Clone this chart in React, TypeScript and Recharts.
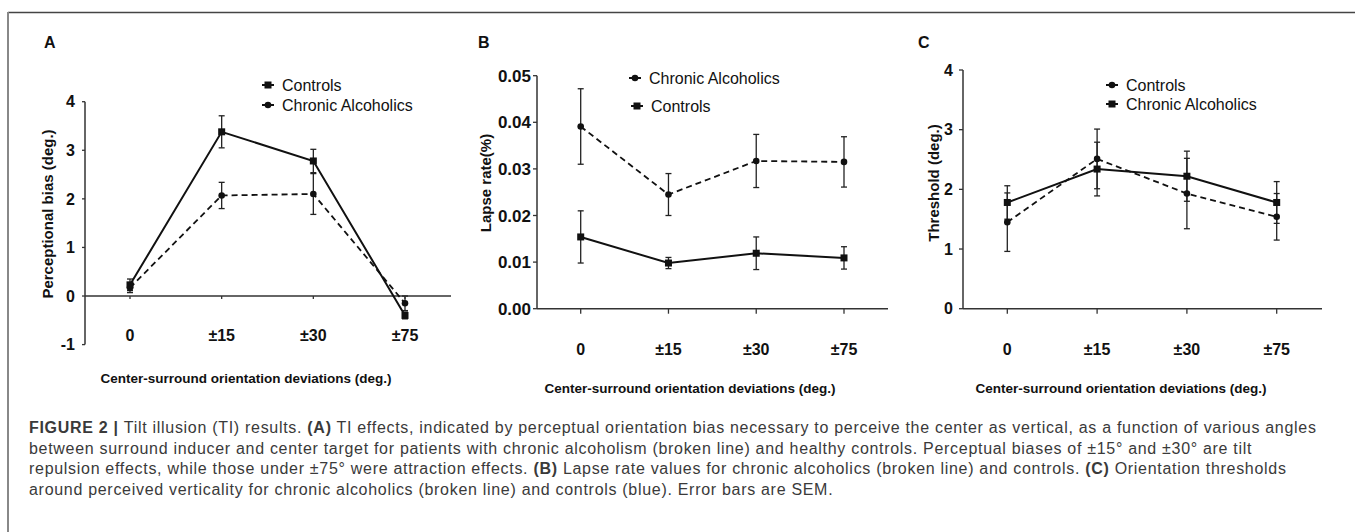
import React from 'react';
import { LineChart, Line, XAxis, YAxis, ErrorBar, ReferenceLine, ReferenceDot } from 'recharts';

const categories = ['0', '±15', '±30', '±75'];

// A: perceptual bias (deg.)
const biasControls = [0.23, 3.38, 2.78, -0.4];
const biasControlsErr = [0.12, 0.33, 0.24, 0.07];
const biasAlcoholics = [0.17, 2.07, 2.1, -0.15];
const biasAlcoholicsErr = [0.1, 0.27, 0.42, 0.15];
const biasTicks = [-1, 0, 1, 2, 3, 4];

// B: lapse rate
const lapseAlcoholics = [0.0391, 0.0245, 0.0317, 0.0315];
const lapseAlcoholicsErr = [0.0081, 0.0045, 0.0057, 0.0054];
const lapseControls = [0.0154, 0.0098, 0.0119, 0.0109];
const lapseControlsErr = [0.0056, 0.0012, 0.0035, 0.0024];
const lapseTicks = [0, 0.01, 0.02, 0.03, 0.04, 0.05];

// C: threshold (deg.) -- legend as printed: circles = Controls, squares = Chronic Alcoholics
const thresholdCircle = [1.45, 2.51, 1.93, 1.54];
const thresholdCircleErr = [0.49, 0.5, 0.59, 0.39];
const thresholdSquare = [1.78, 2.34, 2.22, 1.78];
const thresholdSquareErr = [0.28, 0.45, 0.42, 0.35];
const thresholdTicks = [0, 1, 2, 3, 4];

const captionLines = [
  [
    { b: true, t: 'FIGURE 2 | ' },
    { t: 'Tilt illusion (TI) results. ' },
    { b: true, t: '(A)' },
    { t: ' TI effects, indicated by perceptual orientation bias necessary to perceive the center as vertical, as a function of various angles' },
  ],
  [{ t: 'between surround inducer and center target for patients with chronic alcoholism (broken line) and healthy controls. Perceptual biases of ±15° and ±30° are tilt' }],
  [
    { t: 'repulsion effects, while those under ±75° were attraction effects. ' },
    { b: true, t: '(B)' },
    { t: ' Lapse rate values for chronic alcoholics (broken line) and controls. ' },
    { b: true, t: '(C)' },
    { t: ' Orientation thresholds' },
  ],
  [{ t: 'around perceived verticality for chronic alcoholics (broken line) and controls (blue). Error bars are SEM.' }],
];

const biasData = categories.map((cat, i) => ({
  cat,
  ctrl: biasControls[i],
  ctrlErr: biasControlsErr[i],
  alc: biasAlcoholics[i],
  alcErr: biasAlcoholicsErr[i],
}));
const lapseData = categories.map((cat, i) => ({
  cat,
  alc: lapseAlcoholics[i],
  alcErr: lapseAlcoholicsErr[i],
  ctrl: lapseControls[i],
  ctrlErr: lapseControlsErr[i],
}));
const thresholdData = categories.map((cat, i) => ({
  cat,
  circ: thresholdCircle[i],
  circErr: thresholdCircleErr[i],
  sq: thresholdSquare[i],
  sqErr: thresholdSquareErr[i],
}));

const FONT = '"Liberation Sans", Arial, sans-serif';
const INK = '#111';
const AXIS = '#333';

const SquareDot = (props: any) => {
  const { cx, cy, index } = props;
  if (cx == null || cy == null) return <g key={`s${index}`} />;
  return <rect key={`s${index}`} x={cx - 3.5} y={cy - 3.5} width={7} height={7} fill={INK} />;
};
const CircleDot = (props: any) => {
  const { cx, cy, index } = props;
  if (cx == null || cy == null) return <g key={`c${index}`} />;
  return <circle key={`c${index}`} cx={cx} cy={cy} r={3.3} fill={INK} />;
};

const XTick = (props: any) => {
  const { x, y, payload, dy } = props;
  return (
    <text x={x} y={y} dy={dy} textAnchor="middle" fontFamily={FONT} fontWeight="bold" fontSize={16} fill={INK}>
      {payload.value}
    </text>
  );
};

const yTickStyle = { fontFamily: FONT, fontWeight: 'bold', fontSize: 16, fill: INK };

const LegendRow = ({ x, y, shape, label }: any) => (
  <g>
    <line x1={x} x2={x + 12} y1={y} y2={y} stroke={INK} strokeWidth={2} />
    {shape === 'square' ? (
      <rect x={x + 2.5} y={y - 3.5} width={7} height={7} fill={INK} />
    ) : (
      <circle cx={x + 6} cy={y} r={3.3} fill={INK} />
    )}
    <text x={x + 20} y={y + 5.5} fontFamily={FONT} fontSize={16} fill={INK}>
      {label}
    </text>
  </g>
);

const xTitle = 'Center-surround orientation deviations (deg.)';

export default function App() {
  return (
    <div style={{ position: 'absolute', left: 0, top: 0, width: 1355, height: 532, background: '#fff', overflow: 'hidden' }}>
      {/* A */}
      <div style={{ position: 'absolute', left: 0, top: 0 }}>
        <LineChart width={460} height={400} data={biasData} margin={{ top: 101.7, right: 9, bottom: 25.4, left: 0 }}>
          <XAxis
            dataKey="cat"
            axisLine={false}
            tickLine={false}
            tickSize={0}
            height={30}
            interval={0}
            padding={{ left: 45, right: 46 }}
            tick={(p: any) => <XTick {...p} dy={-6} />}
          />
          <YAxis
            domain={[-1, 4]}
            ticks={biasTicks}
            width={85}
            axisLine={{ stroke: AXIS, strokeWidth: 1.5 }}
            tickLine={{ stroke: AXIS, strokeWidth: 1.3 }}
            tickSize={3}
            tickMargin={7}
            tick={yTickStyle}
          />
          <ReferenceLine y={0} stroke={AXIS} strokeWidth={1.3} />
          {categories.map((c) => (
            <ReferenceDot
              key={c}
              x={c}
              y={0}
              r={0}
              shape={(p: any) => <line x1={p.cx} x2={p.cx} y1={p.cy} y2={p.cy + 3} stroke={AXIS} strokeWidth={1.3} />}
            />
          ))}
          <Line dataKey="alc" stroke={INK} strokeWidth={1.8} strokeDasharray="6 4" dot={CircleDot} isAnimationActive={false}>
            <ErrorBar dataKey="alcErr" width={3} stroke="#222" strokeWidth={1.3} direction="y" />
          </Line>
          <Line dataKey="ctrl" stroke={INK} strokeWidth={2} dot={SquareDot} isAnimationActive={false}>
            <ErrorBar dataKey="ctrlErr" width={3} stroke="#222" strokeWidth={1.3} direction="y" />
          </Line>
        </LineChart>
      </div>

      {/* B */}
      <div style={{ position: 'absolute', left: 450, top: 0 }}>
        <LineChart width={445} height={400} data={lapseData} margin={{ top: 75.7, right: 7, bottom: 51.3, left: 0 }}>
          <XAxis
            dataKey="cat"
            axisLine={{ stroke: AXIS, strokeWidth: 1.5 }}
            tickLine={{ stroke: AXIS, strokeWidth: 1.3 }}
            tickSize={5}
            height={40}
            interval={0}
            padding={{ left: 43.7, right: 44 }}
            tick={(p: any) => <XTick {...p} dy={39} />}
          />
          <YAxis
            domain={[0, 0.05]}
            ticks={lapseTicks}
            width={87}
            axisLine={{ stroke: AXIS, strokeWidth: 1.5 }}
            tickLine={{ stroke: AXIS, strokeWidth: 1.3 }}
            tickSize={4}
            tickMargin={2}
            tickFormatter={(v: number) => v.toFixed(2)}
            tick={{ ...yTickStyle, fontSize: 17 }}
          />
          <Line dataKey="alc" stroke={INK} strokeWidth={1.8} strokeDasharray="6 4" dot={CircleDot} isAnimationActive={false}>
            <ErrorBar dataKey="alcErr" width={3} stroke="#222" strokeWidth={1.3} direction="y" />
          </Line>
          <Line dataKey="ctrl" stroke={INK} strokeWidth={2} dot={SquareDot} isAnimationActive={false}>
            <ErrorBar dataKey="ctrlErr" width={3} stroke="#222" strokeWidth={1.3} direction="y" />
          </Line>
        </LineChart>
      </div>

      {/* C */}
      <div style={{ position: 'absolute', left: 900, top: 0 }}>
        <LineChart width={455} height={400} data={thresholdData} margin={{ top: 70, right: 33, bottom: 51.3, left: 0 }}>
          <XAxis
            dataKey="cat"
            axisLine={{ stroke: AXIS, strokeWidth: 1.5 }}
            tickLine={{ stroke: AXIS, strokeWidth: 1.3 }}
            tickSize={5}
            height={40}
            interval={0}
            padding={{ left: 44.3, right: 45.3 }}
            tick={(p: any) => <XTick {...p} dy={39} />}
          />
          <YAxis
            domain={[0, 4]}
            ticks={thresholdTicks}
            width={63}
            axisLine={{ stroke: AXIS, strokeWidth: 1.5 }}
            tickLine={{ stroke: AXIS, strokeWidth: 1.3 }}
            tickSize={4}
            tickMargin={6}
            tick={yTickStyle}
          />
          <Line dataKey="circ" stroke={INK} strokeWidth={1.8} strokeDasharray="6 4" dot={CircleDot} isAnimationActive={false}>
            <ErrorBar dataKey="circErr" width={3} stroke="#222" strokeWidth={1.3} direction="y" />
          </Line>
          <Line dataKey="sq" stroke={INK} strokeWidth={2} dot={SquareDot} isAnimationActive={false}>
            <ErrorBar dataKey="sqErr" width={3} stroke="#222" strokeWidth={1.3} direction="y" />
          </Line>
        </LineChart>
      </div>

      {/* frame, titles, legends, caption */}
      <svg width={1355} height={532} style={{ position: 'absolute', left: 0, top: 0, pointerEvents: 'none' }}>
        <line x1={8} x2={1355} y1={12.5} y2={12.5} stroke="#444" strokeWidth={1.5} />
        <line x1={8} x2={8} y1={12} y2={532} stroke="#888" strokeWidth={2} />

        <g fontFamily={FONT} fontWeight="bold" fontSize={16} fill={INK}>
          <text x={44} y={48}>A</text>
          <text x={478} y={48}>B</text>
          <text x={918} y={48}>C</text>
        </g>

        <g fontFamily={FONT} fontWeight="bold" fontSize={15} fill={INK} textAnchor="middle">
          <text transform="translate(52.5,214) rotate(-90)">Perceptional bias (deg.)</text>
          <text transform="translate(490.5,183) rotate(-90)">Lapse rate(%)</text>
          <text transform="translate(938.5,183) rotate(-90)">Threshold (deg.)</text>
        </g>

        <g fontFamily={FONT} fontWeight="bold" fontSize={13.5} fill={INK} textAnchor="middle">
          <text x={246} y={383}>{xTitle}</text>
          <text x={690} y={393}>{xTitle}</text>
          <text x={1121} y={393}>{xTitle}</text>
        </g>

        <LegendRow x={262} y={85} shape="square" label="Controls" />
        <LegendRow x={262} y={105} shape="circle" label="Chronic Alcoholics" />
        <LegendRow x={629} y={78} shape="circle" label="Chronic Alcoholics" />
        <LegendRow x={631} y={106} shape="square" label="Controls" />
        <LegendRow x={1106} y={85} shape="circle" label="Controls" />
        <LegendRow x={1106} y={104} shape="square" label="Chronic Alcoholics" />

        <g fontFamily={FONT} fontSize={16} letterSpacing={0.7} fill="#3a3a3a">
          {captionLines.map((parts, i) => (
            <text key={i} x={29} y={433 + i * 20.5} xmlSpace="preserve">
              {parts.map((p, j) => (
                <tspan key={j} fontWeight={p.b ? 'bold' : 'normal'}>
                  {p.t}
                </tspan>
              ))}
            </text>
          ))}
        </g>
      </svg>
    </div>
  );
}
